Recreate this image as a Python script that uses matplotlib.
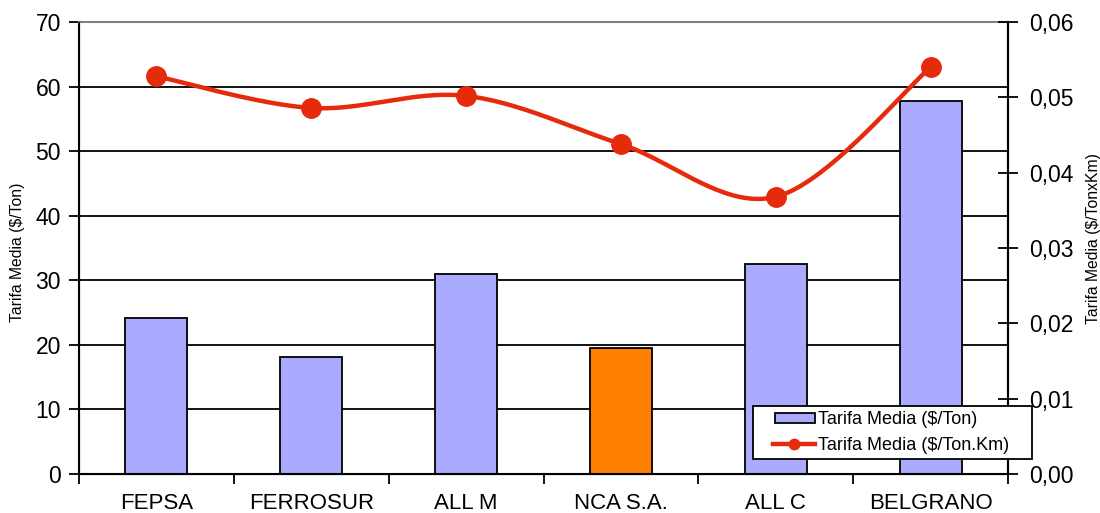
import numpy as np
import matplotlib
matplotlib.use("Agg")
import matplotlib.pyplot as plt
from matplotlib.lines import Line2D
from matplotlib.patches import Patch
from matplotlib.legend_handler import HandlerPatch, HandlerLine2D

plt.rcParams['font.family'] = ['Liberation Sans', 'DejaVu Sans']

categories = ["FEPSA", "FERROSUR", "ALL M", "NCA S.A.", "ALL C", "BELGRANO"]
tarifa_ton = [24.2, 18.1, 31.0, 19.5, 32.5, 57.8]
tarifa_tonkm = [0.0528, 0.0486, 0.0502, 0.0438, 0.0368, 0.0540]
bar_colors = ["#AAAAFF", "#AAAAFF", "#AAAAFF", "#FF8000", "#AAAAFF", "#AAAAFF"]
left_ticks = [0, 10, 20, 30, 40, 50, 60, 70]
right_ticks = [0.0, 0.01, 0.02, 0.03, 0.04, 0.05, 0.06]
right_labels = ["0,00", "0,01", "0,02", "0,03", "0,04", "0,05", "0,06"]

line_color = "#E62A0C"
tick_fs = 16.5


def smooth_curve(x, y, steps=40):
    """Catmull-Rom style smoothing through the given points."""
    x = np.asarray(x, float)
    y = np.asarray(y, float)
    px = np.concatenate([[x[0]], x, [x[-1]]])
    py = np.concatenate([[y[0]], y, [y[-1]]])
    xs, ys = [], []
    t = np.linspace(0, 1, steps)[:, None]
    for i in range(1, len(px) - 2):
        p0 = np.array([px[i - 1], py[i - 1]])
        p1 = np.array([px[i], py[i]])
        p2 = np.array([px[i + 1], py[i + 1]])
        p3 = np.array([px[i + 2], py[i + 2]])
        c1 = p1 + (p2 - p0) / 6.0
        c2 = p2 - (p3 - p1) / 6.0
        seg = ((1 - t) ** 3) * p1 + 3 * ((1 - t) ** 2) * t * c1 \
            + 3 * (1 - t) * t ** 2 * c2 + t ** 3 * p2
        xs.append(seg[:, 0])
        ys.append(seg[:, 1])
    return np.concatenate(xs), np.concatenate(ys)


fig = plt.figure(figsize=(11.0, 5.13), dpi=100)
ax = fig.add_axes([0.0718, 0.076, 0.8446, 0.881])
ax2 = ax.twinx()

x = np.arange(len(categories))

# horizontal grid
for v in left_ticks[1:-1]:
    ax.axhline(v, color="black", lw=1.3, zorder=0)

ax.bar(x, tarifa_ton, width=0.4, color=bar_colors, edgecolor="black",
       linewidth=1.3, zorder=2)

ax.set_xlim(-0.5, len(categories) - 0.5)
ax.set_ylim(0, 70)
ax.set_yticks(left_ticks)
ax.set_yticklabels([str(v) for v in left_ticks], fontsize=tick_fs)
ax.tick_params(axis="y", direction="out", length=7, width=1.3, pad=6)

ax.set_xticks(x)
ax.set_xticklabels(categories, fontsize=16)
ax.tick_params(axis="x", which="major", length=0, pad=13.5)
ax.set_xticks(np.arange(-0.5, len(categories)), minor=True)
ax.tick_params(axis="x", which="minor", direction="out", length=7, width=1.3)

ax.spines["top"].set_color("#808080")
ax.spines["top"].set_linewidth(1.5)
for s in ("left", "bottom", "right"):
    ax.spines[s].set_linewidth(1.5)
    ax.spines[s].set_color("black")
ax.set_ylabel("Tarifa Media ($/Ton)", fontsize=11.3)
ax.yaxis.set_label_coords(-0.058, 0.49)

# secondary axis line
sx, sy = smooth_curve(x, tarifa_tonkm)
ax2.plot(sx, sy, color=line_color, lw=3.2, zorder=5, solid_capstyle="round")
ax2.plot(x, tarifa_tonkm, "o", color=line_color, markersize=14, zorder=6)
ax2.set_ylim(0, 0.06)
ax2.set_yticks(right_ticks)
ax2.set_yticklabels(right_labels, fontsize=tick_fs)
ax2.tick_params(axis="y", direction="inout", length=14, width=1.3, pad=8)
ax2.spines["right"].set_linewidth(1.5)
ax2.spines["top"].set_visible(False)
ax2.set_ylabel("Tarifa Media ($/TonxKm)", fontsize=11.3)
ax2.yaxis.set_label_coords(1.084, 0.522)

handles = [
    Patch(facecolor="#AAAAFF", edgecolor="black", linewidth=1.3),
    Line2D([0], [0], color=line_color, lw=3.2, marker="o", markersize=7.5),
]
labels = ["Tarifa Media ($/Ton)", "Tarifa Media ($/Ton.Km)"]
leg = ax2.legend(handles, labels, loc="upper left",
                 bbox_to_anchor=(0.6845, 0.2086, 0.2535, 0.0),
                 bbox_transform=fig.transFigure, mode="expand",
                 handler_map={Patch: HandlerPatch(xpad=0.94),
                              Line2D: HandlerLine2D(xpad=0.8)},
                 fontsize=13, frameon=True, fancybox=False, framealpha=1.0,
                 borderpad=0.3, handlelength=3.15, handleheight=0.5,
                 handletextpad=0.17, labelspacing=0.45, borderaxespad=0)
leg.get_frame().set_edgecolor("black")
leg.get_frame().set_facecolor("white")
leg.get_frame().set_linewidth(1.3)
leg.set_zorder(10)

fig.savefig("out.png", dpi=100)
